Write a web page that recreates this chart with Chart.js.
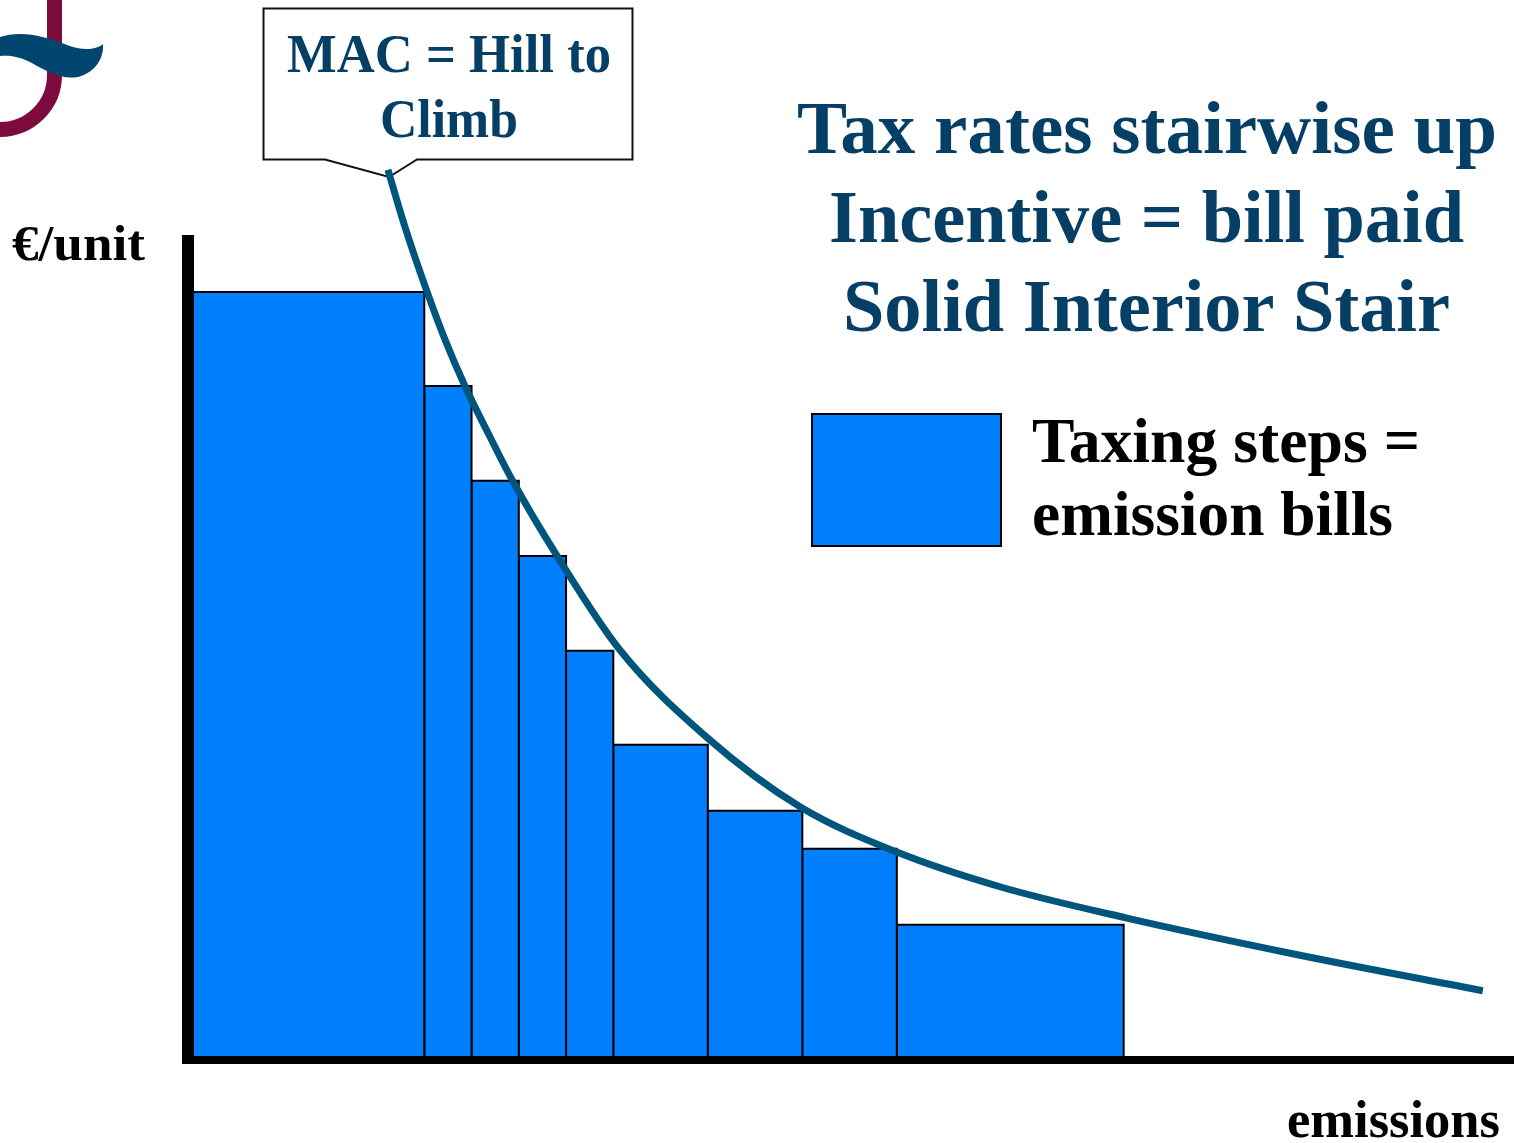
<!DOCTYPE html>
<html>
<head>
<meta charset="utf-8">
<script src="https://cdn.jsdelivr.net/npm/chart.js@4.4.1/dist/chart.umd.min.js"></script>
<style>
  body { margin: 0; background: #fff; }
  canvas { display: block; }
</style>
</head>
<body>
<canvas id="stairChart" width="1514" height="1143"></canvas>
<script>
// Tax steps: edges along emissions axis and the tax rate of each step
const stepEdges = [0, 5, 6, 7, 8, 9, 11, 13, 15, 19.8];
const taxRates = [93.1, 81.7, 70.2, 61.1, 49.6, 38.2, 30.2, 25.6, 16.4];

// MAC curve (marginal abatement cost)
const macX = [4.23, 4.59, 5.06, 5.44, 5.86, 6.35, 6.86, 7.81, 9.14,
              11.0, 12.95, 15.0, 17.18, 19.87, 23.53, 27.40];
const macY = [107.9, 101.0, 93.1, 87.3, 81.7, 76.0, 70.3, 61.1, 49.7,
              39.0, 30.7, 25.2, 21.0, 17.2, 12.7, 8.4];

const titleLines = ['Tax rates stairwise up', 'Incentive = bill paid', 'Solid Interior Stair'];
const calloutLines = ['MAC = Hill to', 'Climb'];
const legendLines = ['Taxing steps =', 'emission bills'];

const navy = '#063f66';
const curveColor = '#00557c';
const stepColor = '#0080ff';
const serif = '"Liberation Serif", "Times New Roman", serif';

// one closed rectangle per step, drawn as a filled line through the scales
const stepDatasets = taxRates.map((rate, i) => ({
  label: 'step ' + (i + 1),
  data: [
    { x: stepEdges[i], y: 0 },
    { x: stepEdges[i], y: rate },
    { x: stepEdges[i + 1], y: rate },
    { x: stepEdges[i + 1], y: 0 }
  ],
  showLine: true,
  fill: 'origin',
  backgroundColor: stepColor,
  borderColor: '#000',
  borderWidth: 2,
  tension: 0,
  pointRadius: 0,
  order: 2
}));

const macDataset = {
  label: 'MAC',
  data: macX.map((x, i) => ({ x: x, y: macY[i] })),
  showLine: true,
  fill: false,
  borderColor: curveColor,
  borderWidth: 7,
  cubicInterpolationMode: 'monotone',
  pointRadius: 0,
  order: 0
};

// draw text stretched to the width it has in the picture
function fitText(ctx, text, left, right, baseline, size, color) {
  ctx.save();
  ctx.font = 'bold ' + size + 'px ' + serif;
  ctx.fillStyle = color;
  ctx.textBaseline = 'alphabetic';
  ctx.textAlign = 'left';
  const w = ctx.measureText(text).width;
  ctx.translate(left, baseline);
  ctx.scale((right - left) / w, 1);
  ctx.fillText(text, 0, 0);
  ctx.restore();
}

const decorations = {
  id: 'decorations',
  beforeDatasetsDraw(chart) {
    const ctx = chart.ctx;

    // logo in the corner
    ctx.save();
    ctx.strokeStyle = '#7d0a3c';
    ctx.lineWidth = 15;
    ctx.beginPath();
    ctx.moveTo(54.5, -5);
    ctx.lineTo(54.5, 75);
    ctx.arc(0, 75, 54.5, 0, Math.PI / 2);
    ctx.stroke();
    ctx.fillStyle = '#00466f';
    ctx.beginPath();
    ctx.moveTo(0, 37);
    ctx.bezierCurveTo(20, 30, 45, 36, 67, 45);
    ctx.bezierCurveTo(82, 51, 96, 50, 103, 44);
    ctx.bezierCurveTo(104, 58, 96, 72, 78, 77);
    ctx.bezierCurveTo(60, 80, 45, 70, 30, 62);
    ctx.bezierCurveTo(18, 56, 8, 55, 0, 56);
    ctx.closePath();
    ctx.fill();
    ctx.restore();

    // callout box with its pointer
    ctx.save();
    ctx.beginPath();
    ctx.moveTo(263.5, 8.5);
    ctx.lineTo(632.5, 8.5);
    ctx.lineTo(632.5, 159.5);
    ctx.lineTo(417, 159.5);
    ctx.lineTo(389, 177);
    ctx.lineTo(325, 159.5);
    ctx.lineTo(263.5, 159.5);
    ctx.closePath();
    ctx.fillStyle = '#fff';
    ctx.fill();
    ctx.lineWidth = 2;
    ctx.strokeStyle = '#111';
    ctx.stroke();
    ctx.restore();
    fitText(ctx, calloutLines[0], 287, 611, 72, 55, navy);
    fitText(ctx, calloutLines[1], 380, 518, 137, 55, navy);

    // title block
    fitText(ctx, titleLines[0], 797, 1497, 153, 75, navy);
    fitText(ctx, titleLines[1], 829, 1464, 242, 75, navy);
    fitText(ctx, titleLines[2], 843, 1450, 331, 75, navy);

    // legend
    ctx.save();
    ctx.fillStyle = stepColor;
    ctx.fillRect(812, 414, 189, 132);
    ctx.lineWidth = 2;
    ctx.strokeStyle = '#000';
    ctx.strokeRect(812, 414, 189, 132);
    ctx.restore();
    fitText(ctx, legendLines[0], 1032, 1420, 462, 64, '#000');
    fitText(ctx, legendLines[1], 1032, 1393, 535, 64, '#000');

    // axis titles
    fitText(ctx, '€/unit', 12, 145, 260, 50, '#000');
    fitText(ctx, 'emissions', 1287, 1500, 1137, 53, '#000');
  },
  afterDatasetsDraw(chart) {
    const ctx = chart.ctx;
    const xs = chart.scales.x;
    const ys = chart.scales.y;
    const x0 = xs.getPixelForValue(0);
    const y0 = ys.getPixelForValue(0);
    ctx.save();
    ctx.fillStyle = '#000';
    // vertical axis, thick
    ctx.fillRect(x0 - 6, ys.getPixelForValue(100), 12, y0 + 4 - ys.getPixelForValue(100));
    // horizontal axis
    ctx.fillRect(x0 - 6, y0 - 4, xs.getPixelForValue(xs.max) - x0 + 6, 8);
    ctx.restore();
  }
};

const ctxStair = document.getElementById('stairChart').getContext('2d');
const stairChart = new Chart(ctxStair, {
  type: 'scatter',
  data: {
    datasets: [macDataset].concat(stepDatasets)
  },
  options: {
    responsive: false,
    animation: false,
    layout: {
      padding: { left: 188, right: 0, top: 136, bottom: 83 }
    },
    scales: {
      x: { type: 'linear', min: 0, max: 28.06, display: false },
      y: { type: 'linear', min: 0, max: 112, display: false }
    },
    plugins: {
      legend: { display: false },
      tooltip: { enabled: false }
    }
  },
  plugins: [decorations]
});
</script>
</body>
</html>
